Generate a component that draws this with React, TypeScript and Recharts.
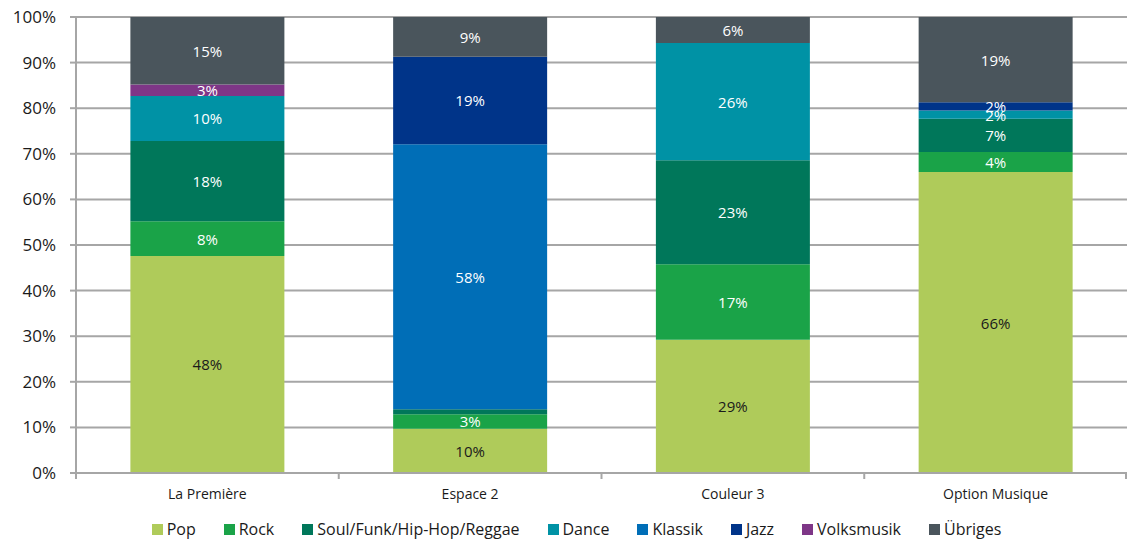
import { BarChart, Bar, XAxis, YAxis, CartesianGrid, Legend, LabelList } from "recharts";

const stations = ["La Première", "Espace 2", "Couleur 3", "Option Musique"];

const pop = [47.6, 9.7, 29.2, 66.0];
const rock = [7.6, 3.2, 16.6, 4.4];
const soul = [17.6, 1.1, 22.8, 7.3];
const dance = [9.9, 0, 25.7, 1.8];
const klassik = [0, 58.1, 0, 0];
const jazz = [0, 19.2, 0, 1.8];
const volksmusik = [2.5, 0, 0, 0];
const uebriges = [14.8, 8.7, 5.7, 18.7];

const yTicks = [0, 10, 20, 30, 40, 50, 60, 70, 80, 90, 100];

const series = [
  { key: "pop", name: "Pop", color: "#AFCB5A", text: "#1a1a1a", values: pop },
  { key: "rock", name: "Rock", color: "#1AA348", text: "#ffffff", values: rock },
  { key: "soul", name: "Soul/Funk/Hip-Hop/Reggae", color: "#00775A", text: "#ffffff", values: soul },
  { key: "dance", name: "Dance", color: "#0092A5", text: "#ffffff", values: dance },
  { key: "klassik", name: "Klassik", color: "#006EB7", text: "#ffffff", values: klassik },
  { key: "jazz", name: "Jazz", color: "#003489", text: "#ffffff", values: jazz },
  { key: "volksmusik", name: "Volksmusik", color: "#7E3687", text: "#ffffff", values: volksmusik },
  { key: "uebriges", name: "Übriges", color: "#4A555C", text: "#ffffff", values: uebriges },
];

const data = stations.map((station, i) => {
  const row: Record<string, string | number> = { station };
  series.forEach((s) => {
    row[s.key] = s.values[i];
  });
  return row;
});

const FONT = "'Open Sans', sans-serif";
const WIDTH = 1127;
const HEIGHT = 540;
const Y_AXIS_W = 76;
const BAND = (WIDTH - Y_AXIS_W) / stations.length;

function makeLabel(color: string) {
  return (props: any) => {
    const { x, y, width, height, value } = props;
    if (value == null || value < 1.5) return null;
    return (
      <text
        x={x + width / 2}
        y={y + height / 2}
        textAnchor="middle"
        dominantBaseline="central"
        fill={color}
        fontSize={15}
        fontFamily={FONT}
      >
        {Math.round(value)}%
      </text>
    );
  };
}

function CategoryTick(props: any) {
  const { x, y, payload, index } = props;
  const isLast = index === stations.length - 1;
  return (
    <g>
      <line x1={x - BAND / 2} y1={y - 8} x2={x - BAND / 2} y2={y - 2} stroke="#A6A6A6" strokeWidth={2} />
      {isLast && (
        <line x1={x + BAND / 2 - 1} y1={y - 8} x2={x + BAND / 2 - 1} y2={y - 2} stroke="#A6A6A6" strokeWidth={2} />
      )}
      <text x={x} y={y + 18} textAnchor="middle" fill="#1a1a1a" fontSize={14} fontFamily={FONT}>
        {payload.value}
      </text>
    </g>
  );
}

function LegendContent() {
  return (
    <div
      style={{
        display: "flex",
        justifyContent: "center",
        gap: 28,
        fontFamily: FONT,
        fontSize: 16,
        color: "#1a1a1a",
        paddingLeft: 26,
        paddingTop: 15,
      }}
    >
      {series.map((s) => (
        <div key={s.key} style={{ display: "flex", alignItems: "center", gap: 4 }}>
          <span style={{ width: 11, height: 11, background: s.color, display: "inline-block" }} />
          <span>{s.name}</span>
        </div>
      ))}
    </div>
  );
}

export default function App() {
  return (
    <div style={{ position: "absolute", left: 0, top: 0, background: "#fff" }}>
      <BarChart
        width={WIDTH}
        height={HEIGHT}
        data={data}
        margin={{ top: 17, right: 0, left: 0, bottom: 4 }}
        barCategoryGap="20.7%"
      >
        <CartesianGrid vertical={false} stroke="#A6A6A6" strokeWidth={2} />
        <XAxis
          dataKey="station"
          axisLine={{ stroke: "#A6A6A6", strokeWidth: 2 }}
          tickLine={false}
          tick={<CategoryTick />}
          height={30}
          interval={0}
        />
        <YAxis
          width={Y_AXIS_W}
          domain={[0, 100]}
          ticks={yTicks}
          tickFormatter={(v) => `${v}%`}
          axisLine={{ stroke: "#A6A6A6", strokeWidth: 2 }}
          tickLine={{ stroke: "#A6A6A6", strokeWidth: 2 }}
          tickSize={6}
          tickMargin={14}
          tick={{ fill: "#1a1a1a", fontSize: 17, fontFamily: FONT }}
        />
        <Legend verticalAlign="bottom" height={33} content={<LegendContent />} />
        {series.map((s) => (
          <Bar
            key={s.key}
            dataKey={s.key}
            name={s.name}
            stackId="a"
            fill={s.color}
            isAnimationActive={false}
          >
            <LabelList dataKey={s.key} content={makeLabel(s.text)} />
          </Bar>
        ))}
      </BarChart>
    </div>
  );
}
